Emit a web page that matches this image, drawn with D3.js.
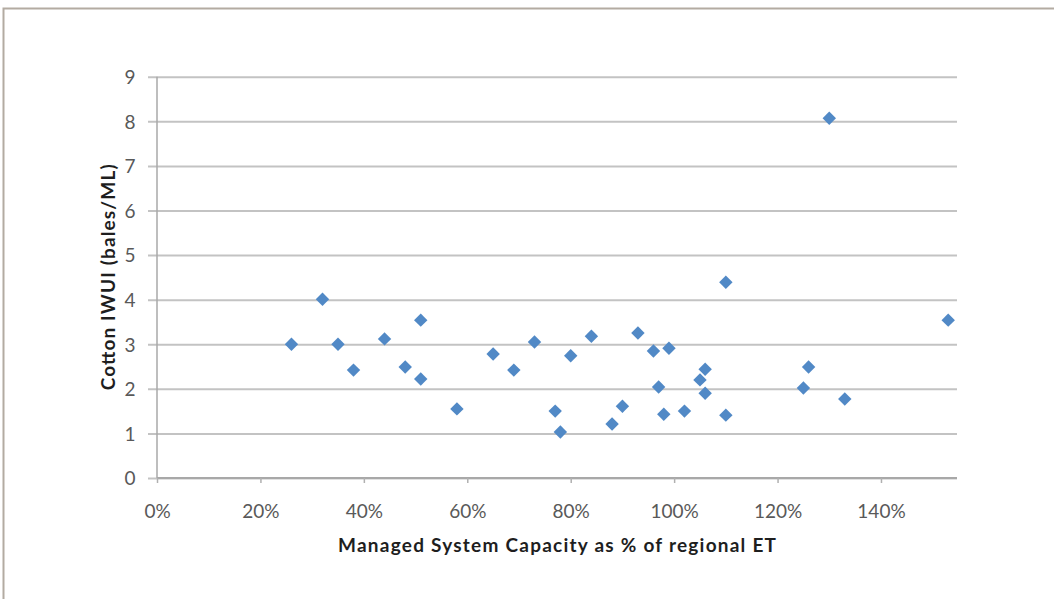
<!DOCTYPE html>
<html>
<head>
<meta charset="utf-8">
<script src="https://cdn.jsdelivr.net/npm/d3@7"></script>
<style>
  html, body { margin: 0; padding: 0; background: #fff; }
  svg { display: block; }
</style>
</head>
<body>
<div id="chart"></div>
<script>
'use strict';

// ─── Data ──────────────────────────────────────────────────────────────────
const capacity = [0.26, 0.32, 0.35, 0.38, 0.44, 0.48, 0.51, 0.51, 0.58, 0.65,
                  0.69, 0.73, 0.77, 0.78, 0.80, 0.84, 0.88, 0.90, 0.93, 0.96,
                  0.97, 0.98, 0.99, 1.02, 1.05, 1.06, 1.06, 1.10, 1.10, 1.25,
                  1.26, 1.30, 1.33, 1.53];
const iwui     = [3.00, 4.01, 3.00, 2.42, 3.12, 2.49, 3.54, 2.22, 1.55, 2.78,
                  2.42, 3.05, 1.50, 1.03, 2.74, 3.18, 1.21, 1.61, 3.25, 2.85,
                  2.04, 1.43, 2.91, 1.50, 2.20, 2.44, 1.90, 4.39, 1.41, 2.02,
                  2.49, 8.07, 1.77, 3.54];
const xTicks = [0, 0.2, 0.4, 0.6, 0.8, 1.0, 1.2, 1.4];
const yTicks = [0, 1, 2, 3, 4, 5, 6, 7, 8, 9];

const xTitle = 'Managed System Capacity as % of regional ET';
const yTitle = 'Cotton IWUI (bales/ML)';

const FONT = 'Lato, "Open Sans", sans-serif';

// ─── Layout ────────────────────────────────────────────────────────────────
const W = 1054, H = 599;
const plot = { left: 157, right: 957, top: 76.7, bottom: 478 };

const svg = d3.select('#chart').append('svg')
    .attr('width', W).attr('height', H);

// outer frame (runs off the right and bottom edges)
svg.append('rect')
    .attr('x', 3.5).attr('y', 8.5)
    .attr('width', W + 10).attr('height', H + 10)
    .attr('fill', 'none')
    .attr('stroke', '#b3aba2')
    .attr('stroke-width', 2);

const x = d3.scaleLinear().domain([0, 1.547]).range([plot.left, plot.right]);
const y = d3.scaleLinear().domain([0, 9]).range([plot.bottom, plot.top]);

// gridlines + y ticks
const yAxis = d3.axisLeft(y)
    .tickValues(yTicks)
    .tickSize(-(plot.right - plot.left))
    .tickPadding(0)
    .tickFormat(d3.format('d'));

const gy = svg.append('g')
    .attr('transform', 'translate(' + plot.left + ',0)')
    .call(yAxis);
gy.select('.domain').remove();
gy.selectAll('.tick line')
    .attr('stroke', '#c3c3c3')
    .attr('stroke-width', 2)
    .attr('x1', -9);
gy.selectAll('.tick text')
    .attr('x', -27)
    .attr('dy', '0.36em')
    .attr('fill', '#595959')
    .style('font-family', FONT)
    .style('font-size', '19px')
    .style('text-anchor', 'middle');

// y axis line
svg.append('line')
    .attr('x1', plot.left).attr('x2', plot.left)
    .attr('y1', plot.top).attr('y2', plot.bottom)
    .attr('stroke', '#a8a8a8').attr('stroke-width', 1.5);

// x axis
const xAxis = d3.axisBottom(x)
    .tickValues(xTicks)
    .tickSize(5)
    .tickFormat(d3.format('.0%'));

const gx = svg.append('g')
    .attr('transform', 'translate(0,' + plot.bottom + ')')
    .call(xAxis);
gx.select('.domain')
    .attr('d', 'M' + plot.left + ',0H' + plot.right)
    .attr('stroke', '#a8a8a8').attr('stroke-width', 2);
gx.selectAll('.tick line').attr('stroke', '#b0b0b0').attr('stroke-width', 1.5);
gx.selectAll('.tick text')
    .attr('y', 27)
    .attr('fill', '#595959')
    .style('font-family', FONT)
    .style('font-size', '19px');

// points
const diamond = d3.symbol().type(d3.symbolDiamond2).size(115);
svg.append('g').selectAll('path')
    .data(capacity.map(function (c, i) { return [c, iwui[i]]; }))
    .enter().append('path')
    .attr('transform', function (d) { return 'translate(' + x(d[0]) + ',' + y(d[1]) + ')'; })
    .attr('d', diamond)
    .attr('fill', '#5189c6');

// titles
svg.append('text')
    .attr('x', (plot.left + plot.right) / 2)
    .attr('y', 552)
    .attr('text-anchor', 'middle')
    .attr('fill', '#1e1e1e')
    .attr('textLength', 438)
    .attr('lengthAdjust', 'spacing')
    .style('font-family', FONT)
    .style('font-weight', 'bold')
    .style('font-size', '19px')
    .text(xTitle);

svg.append('text')
    .attr('transform', 'translate(115,' + (plot.top + plot.bottom) / 2 + ') rotate(-90)')
    .attr('text-anchor', 'middle')
    .attr('fill', '#1e1e1e')
    .attr('textLength', 226)
    .attr('lengthAdjust', 'spacing')
    .style('font-family', FONT)
    .style('font-weight', 'bold')
    .style('font-size', '19px')
    .text(yTitle);
</script>
</body>
</html>
